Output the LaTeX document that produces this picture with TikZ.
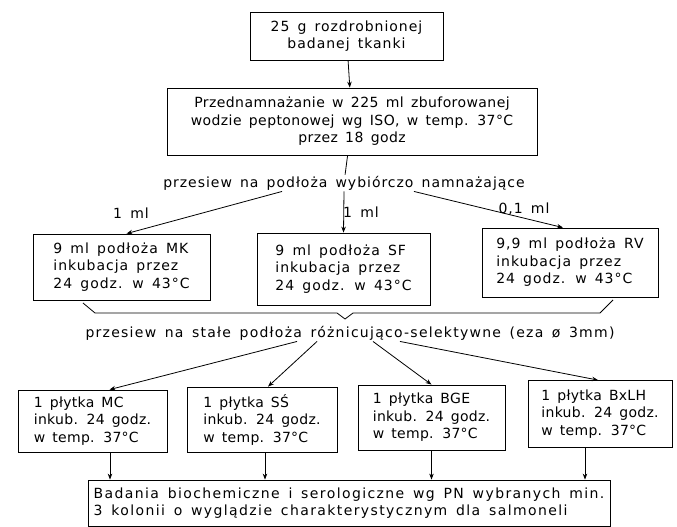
\documentclass[tikz,border=0pt]{standalone}
\usepackage{fontspec}
\setmainfont[WordSpace=1.5, LetterSpace=7]{DejaVu Sans}
\usetikzlibrary{arrows.meta}

\newcommand{\diagfont}{\fontsize{14}{17.5}\selectfont}

\tikzset{
  box/.style={draw, line width=0.8pt, inner sep=0pt},
  cbox/.style={box, align=center},
  lbox/.style={box, align=left},
  txt/.style={inner sep=1pt},
  wide/.style={font=\diagfont\addfontfeature{LetterSpace=#1}}
}

\begin{document}
\begin{tikzpicture}[x=1pt, y=-1pt, font=\diagfont,
    >={Stealth[length=6pt, width=4.5pt]}, line width=0.8pt]
            \useasboundingbox (0,0) rectangle (677,527);

            % top
            \node[cbox, minimum width=193pt, minimum height=48pt] (tkanka) at (346.5,36)
                {25 g rozdrobnionej\\badanej tkanki};
            \node[cbox, wide=3, minimum width=370pt, minimum height=67pt] (przed) at (352,121.5)
                {Przednamnażanie w 225 ml zbuforowanej\\wodzie peptonowej wg ISO, w temp. 37°C\\przez 18 godz};
            \node[txt] (przesiew1) at (344,183) {przesiew na podłoża wybiórczo namnażające};

            % podloza wybiorczo namnazajace
            \node[lbox, minimum width=177pt, minimum height=66pt] (mk) at (121.5,267)
                {9 ml podłoża MK\\inkubacja przez\\24 godz. w 43°C};
            \node[lbox, minimum width=173pt, minimum height=72pt] (sf) at (343.5,269)
                {9 ml podłoża SF\\inkubacja przez\\24 godz. w 43°C};
            \node[lbox, minimum width=176pt, minimum height=69pt] (rv) at (570,262.5)
                {9,9 ml podłoża RV\\inkubacja przez\\24 godz. w 43°C};

            \node[txt] (ml1) at (131,213) {1 ml};
            \node[txt] (ml2) at (361,212) {1 ml};
            \node[txt] (ml3) at (524,209) {0,1 ml};

            \draw[->] (tkanka) -- (przed);
            \draw (przed) -- (przesiew1);
            \draw[->] ([xshift=-62pt]przesiew1.south) -- ([xshift=5pt]mk.north);
            \draw[->] (przesiew1.south) -- (sf.north);
            \draw[->] ([xshift=70pt]przesiew1.south) -- ([xshift=-7pt]rv.north);

            % klamra
            \draw (83,303) -- (95,313) -- (337,313) -- (345,319) -- (353,313) -- (600,313) -- (613,300);
            \node[txt, wide=9] (przesiew2) at (350,333) {przesiew na stałe podłoża różnicująco-selektywne (eza ø 3mm)};

            % podloza roznicujaco-selektywne
            \node[lbox, wide=2, minimum width=149pt, minimum height=62pt] (mc) at (92.5,421)
                {1 płytka MC\\inkub. 24 godz.\\w temp. 37°C};
            \node[lbox, wide=2, minimum width=150pt, minimum height=65pt] (ss) at (262,419.5)
                {1 płytka SŚ\\inkub. 24 godz.\\w temp. 37°C};
            \node[lbox, wide=2, minimum width=147pt, minimum height=65pt] (bge) at (431.5,417.5)
                {1 płytka BGE\\inkub. 24 godz.\\w temp. 37°C};
            \node[lbox, wide=2, minimum width=144pt, minimum height=67pt] (bxlh) at (600,414)
                {1 płytka BxLH\\inkub. 24 godz.\\w temp. 37°C};

            \draw[->] ([xshift=-53pt]przesiew2.south) -- ([xshift=17pt]mc.north);
            \draw[->] ([xshift=-33pt]przesiew2.south) -- ([xshift=6pt]ss.north);
            \draw[->] ([xshift=23pt]przesiew2.south) -- (bge.north);
            \draw[->] ([xshift=50pt]przesiew2.south) -- ([xshift=-2pt]bxlh.north);

            % badania
            \node[lbox, wide=10, minimum width=522pt, minimum height=46pt] (badania) at (349,503)
                {Badania biochemiczne i serologiczne wg PN wybranych min.\\3 kolonii o wyglądzie charakterystycznym dla salmoneli};

            \draw[->] ([xshift=17.5pt]mc.south) -- ([xshift=17.5pt]mc.south |- badania.north);
            \draw[->] ([xshift=3pt]ss.south) -- ([xshift=3pt]ss.south |- badania.north);
            \draw[->] (bge.south) -- (bge.south |- badania.north);
            \draw[->] ([xshift=-15pt]bxlh.south) -- ([xshift=-15pt]bxlh.south |- badania.north);
        \end{tikzpicture}
\end{document}
